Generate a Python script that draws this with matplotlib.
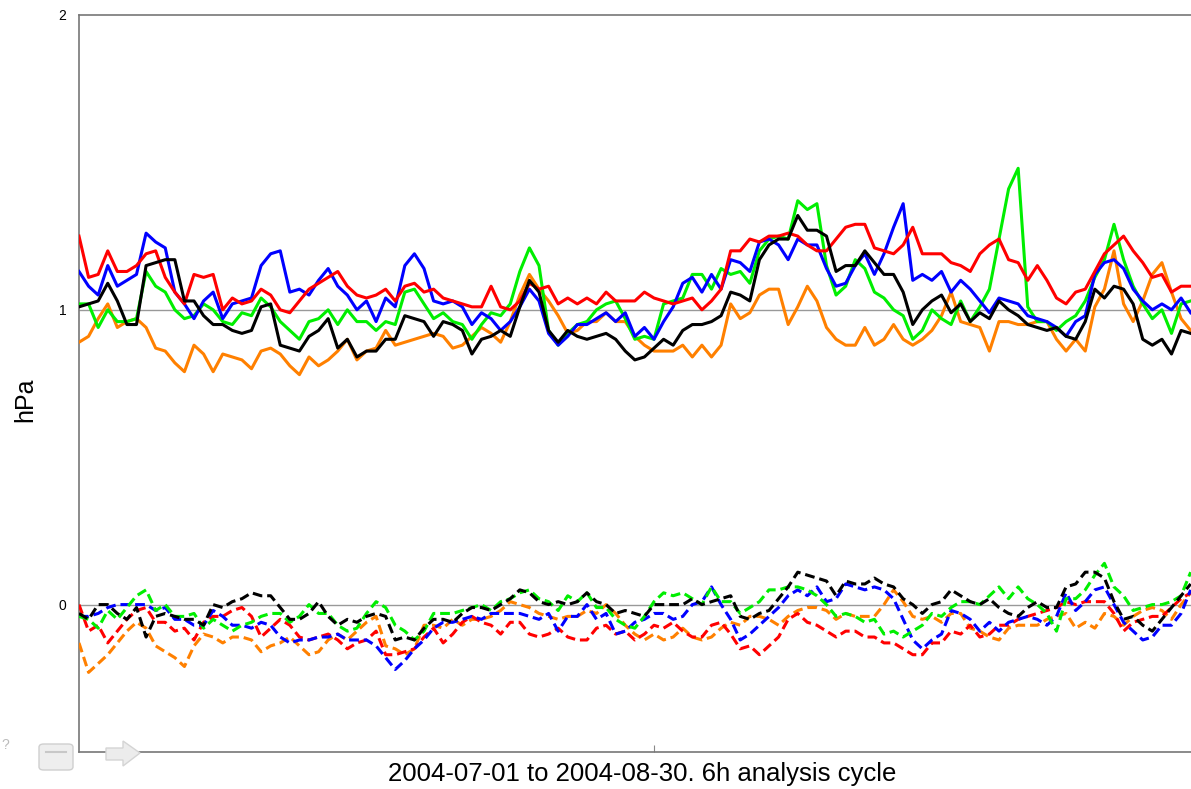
import matplotlib
matplotlib.use("Agg")
import matplotlib.pyplot as plt
from matplotlib.patches import FancyBboxPatch, Polygon
import numpy as np
import pandas as pd

plt.rcParams['font.family'] = ['Liberation Sans', 'DejaVu Sans']

# 12-hourly samples, 2004-07-01 00Z onward
times = pd.date_range("2004-07-01", periods=117, freq="12h")

# solid curves (around 1 hPa)
red = [1.25, 1.11, 1.12, 1.20, 1.13, 1.13, 1.15, 1.19, 1.20, 1.11,
       1.06, 1.02, 1.12, 1.11, 1.12, 1.00, 1.04, 1.02, 1.03, 1.07,
       1.05, 1.00, 0.99, 1.03, 1.07, 1.09, 1.11, 1.13, 1.08, 1.05,
       1.04, 1.05, 1.07, 1.03, 1.08, 1.09, 1.06, 1.07, 1.04, 1.03,
       1.02, 1.01, 1.01, 1.08, 1.01, 1.00, 1.03, 1.09, 1.07, 1.08,
       1.02, 1.04, 1.02, 1.04, 1.02, 1.06, 1.03, 1.03, 1.03, 1.06,
       1.04, 1.03, 1.02, 1.03, 1.04, 1.00, 1.03, 1.07, 1.20, 1.20,
       1.24, 1.23, 1.25, 1.25, 1.26, 1.25, 1.22, 1.20, 1.20, 1.24,
       1.28, 1.29, 1.29, 1.21, 1.20, 1.19, 1.22, 1.28, 1.19, 1.19,
       1.19, 1.16, 1.15, 1.13, 1.19, 1.22, 1.24, 1.17, 1.16, 1.10,
       1.15, 1.10, 1.04, 1.02, 1.06, 1.07, 1.13, 1.19, 1.22, 1.25,
       1.20, 1.16, 1.11, 1.12, 1.06, 1.08, 1.08]
blue = [1.13, 1.08, 1.05, 1.15, 1.08, 1.10, 1.12, 1.26, 1.23, 1.21,
        1.06, 1.02, 0.97, 1.03, 1.06, 0.97, 1.02, 1.03, 1.04, 1.15,
        1.19, 1.20, 1.06, 1.07, 1.05, 1.10, 1.14, 1.08, 1.05, 1.00,
        1.03, 0.96, 1.04, 1.01, 1.15, 1.19, 1.14, 1.03, 1.02, 1.03,
        1.01, 0.95, 0.99, 0.97, 0.93, 0.96, 1.01, 1.07, 1.03, 0.92,
        0.88, 0.91, 0.95, 0.95, 0.97, 0.99, 0.96, 0.99, 0.91, 0.94,
        0.90, 0.96, 1.01, 1.09, 1.11, 1.06, 1.12, 1.07, 1.17, 1.16,
        1.13, 1.23, 1.24, 1.22, 1.17, 1.24, 1.22, 1.22, 1.14, 1.08,
        1.09, 1.15, 1.19, 1.12, 1.19, 1.28, 1.36, 1.10, 1.12, 1.10,
        1.13, 1.06, 1.10, 1.07, 1.03, 0.99, 1.04, 1.03, 1.02, 0.98,
        0.97, 0.96, 0.94, 0.91, 0.96, 0.98, 1.12, 1.16, 1.17, 1.14,
        1.07, 1.03, 1.00, 1.02, 1.00, 1.04, 0.99]
green = [1.02, 1.02, 0.94, 1.00, 0.96, 0.96, 0.97, 1.13, 1.08, 1.06,
         1.00, 0.97, 0.98, 1.02, 1.00, 0.96, 0.95, 0.99, 0.98, 1.04,
         1.01, 0.96, 0.93, 0.90, 0.96, 0.97, 1.00, 0.95, 1.00, 0.96,
         0.96, 0.93, 0.96, 0.95, 1.06, 1.07, 1.02, 0.97, 0.99, 0.96,
         0.95, 0.90, 0.95, 0.99, 0.98, 1.02, 1.13, 1.21, 1.15, 0.93,
         0.88, 0.92, 0.95, 0.96, 1.00, 1.02, 1.03, 0.97, 0.90, 0.91,
         0.90, 1.02, 1.03, 1.04, 1.12, 1.12, 1.07, 1.14, 1.12, 1.13,
         1.09, 1.20, 1.24, 1.25, 1.24, 1.37, 1.34, 1.36, 1.15, 1.05,
         1.08, 1.17, 1.14, 1.06, 1.04, 1.00, 0.98, 0.90, 0.93, 1.00,
         0.97, 0.95, 1.03, 0.96, 1.01, 1.07, 1.24, 1.41, 1.48, 1.01,
         0.96, 0.96, 0.93, 0.96, 0.98, 1.03, 1.11, 1.17, 1.29, 1.17,
         1.08, 1.02, 0.97, 1.00, 0.92, 1.02, 1.03]
black = [1.01, 1.02, 1.03, 1.09, 1.03, 0.95, 0.95, 1.15, 1.16, 1.17,
         1.17, 1.03, 1.03, 0.98, 0.95, 0.95, 0.93, 0.92, 0.93, 1.01,
         1.02, 0.88, 0.87, 0.86, 0.91, 0.93, 0.97, 0.87, 0.90, 0.84,
         0.86, 0.86, 0.90, 0.90, 0.98, 0.97, 0.96, 0.91, 0.96, 0.95,
         0.93, 0.85, 0.90, 0.91, 0.93, 0.91, 1.01, 1.10, 1.06, 0.93,
         0.89, 0.93, 0.91, 0.90, 0.91, 0.92, 0.90, 0.86, 0.83, 0.84,
         0.87, 0.90, 0.88, 0.93, 0.95, 0.95, 0.96, 0.98, 1.06, 1.05,
         1.03, 1.17, 1.22, 1.24, 1.24, 1.32, 1.27, 1.27, 1.25, 1.13,
         1.15, 1.15, 1.20, 1.16, 1.12, 1.12, 1.06, 0.95, 1.00, 1.03,
         1.05, 0.99, 1.02, 0.96, 0.99, 0.97, 1.03, 1.00, 0.98, 0.95,
         0.94, 0.93, 0.94, 0.91, 0.90, 0.96, 1.07, 1.04, 1.08, 1.07,
         1.02, 0.90, 0.88, 0.90, 0.85, 0.93, 0.92]
orange = [0.89, 0.91, 0.97, 1.02, 0.94, 0.96, 0.97, 0.94, 0.87, 0.86,
          0.82, 0.79, 0.88, 0.85, 0.79, 0.85, 0.84, 0.83, 0.80, 0.86,
          0.87, 0.85, 0.81, 0.78, 0.84, 0.81, 0.83, 0.86, 0.90, 0.83,
          0.86, 0.87, 0.93, 0.88, 0.89, 0.90, 0.91, 0.92, 0.91, 0.87,
          0.88, 0.91, 0.94, 0.92, 0.89, 0.96, 1.05, 1.12, 1.07, 1.03,
          0.98, 0.92, 0.93, 0.96, 0.96, 0.99, 0.96, 0.96, 0.91, 0.88,
          0.86, 0.86, 0.86, 0.88, 0.84, 0.88, 0.84, 0.88, 1.02, 0.97,
          0.99, 1.05, 1.07, 1.07, 0.95, 1.01, 1.08, 1.03, 0.94, 0.90,
          0.88, 0.88, 0.94, 0.88, 0.90, 0.95, 0.90, 0.88, 0.90, 0.93,
          0.98, 1.06, 0.96, 0.95, 0.94, 0.86, 0.96, 0.96, 0.95, 0.95,
          0.96, 0.96, 0.90, 0.86, 0.90, 0.86, 1.01, 1.07, 1.20, 1.02,
          0.96, 1.03, 1.12, 1.16, 1.06, 0.97, 0.93]

# dashed curves (around 0 hPa)
red_d = [0.00, -0.09, -0.07, -0.13, -0.09, -0.05, -0.02, -0.01, -0.06, -0.06,
         -0.09, -0.08, -0.12, -0.06, -0.04, -0.04, -0.02, -0.01, -0.04, -0.11,
         -0.08, -0.05, -0.07, -0.11, -0.12, -0.11, -0.10, -0.12, -0.15, -0.13,
         -0.12, -0.09, -0.17, -0.17, -0.16, -0.15, -0.11, -0.08, -0.13, -0.10,
         -0.06, -0.04, -0.06, -0.07, -0.10, -0.06, -0.06, -0.10, -0.11, -0.10,
         -0.08, -0.11, -0.12, -0.12, -0.08, -0.07, -0.10, -0.09, -0.12, -0.10,
         -0.07, -0.08, -0.06, -0.09, -0.11, -0.11, -0.07, -0.06, -0.10, -0.15,
         -0.14, -0.17, -0.14, -0.11, -0.05, -0.03, -0.06, -0.07, -0.09, -0.11,
         -0.09, -0.09, -0.11, -0.11, -0.13, -0.13, -0.15, -0.17, -0.17, -0.13,
         -0.13, -0.09, -0.10, -0.07, -0.11, -0.10, -0.07, -0.07, -0.05, -0.04,
         -0.03, -0.02, -0.01, 0.01, 0.00, 0.01, 0.01, 0.01, -0.03, -0.09,
         -0.06, -0.05, -0.04, -0.04, -0.01, 0.02, 0.04]
blue_d = [-0.04, -0.04, -0.03, -0.01, 0.00, 0.00, 0.00, 0.00, -0.02, -0.01,
          -0.05, -0.05, -0.07, -0.07, -0.02, -0.04, -0.07, -0.07, -0.08, -0.06,
          -0.07, -0.11, -0.13, -0.12, -0.12, -0.11, -0.11, -0.10, -0.12, -0.12,
          -0.12, -0.14, -0.18, -0.22, -0.19, -0.15, -0.12, -0.08, -0.06, -0.06,
          -0.05, -0.04, -0.05, -0.03, -0.03, -0.03, -0.03, -0.04, -0.05, -0.03,
          -0.09, -0.04, -0.04, 0.00, -0.05, -0.03, -0.10, -0.09, -0.06, -0.05,
          -0.03, -0.03, -0.05, -0.04, 0.00, 0.01, 0.06, 0.00, -0.05, -0.12,
          -0.10, -0.07, -0.04, -0.01, 0.03, 0.05, 0.03, 0.06, 0.01, 0.02,
          0.07, 0.06, 0.05, 0.06, 0.05, 0.02, -0.05, -0.12, -0.15, -0.12,
          -0.10, -0.02, -0.03, -0.05, -0.09, -0.06, -0.09, -0.06, -0.05, -0.04,
          -0.05, -0.07, -0.04, 0.04, -0.02, 0.01, 0.05, 0.06, 0.00, -0.06,
          -0.09, -0.12, -0.11, -0.07, -0.07, -0.03, 0.05]
green_d = [-0.04, -0.05, -0.08, -0.02, -0.05, -0.01, 0.03, 0.05, -0.02, 0.00,
           -0.04, -0.04, -0.03, -0.08, -0.05, -0.07, -0.09, -0.07, -0.06, -0.04,
           -0.03, -0.03, -0.06, -0.04, 0.00, -0.03, -0.03, -0.07, -0.09, -0.08,
           -0.03, 0.01, -0.01, -0.07, -0.09, -0.12, -0.09, -0.03, -0.03, -0.03,
           -0.02, -0.01, 0.00, -0.02, 0.01, 0.02, 0.04, 0.05, 0.02, 0.01,
           -0.02, 0.03, 0.01, 0.04, -0.01, -0.01, -0.05, -0.07, -0.08, -0.04,
           0.01, 0.04, 0.03, 0.04, 0.02, 0.00, 0.06, 0.01, 0.01, -0.03,
           -0.01, 0.01, 0.05, 0.05, 0.06, 0.06, 0.05, 0.03, 0.00, -0.04,
           -0.03, -0.04, -0.06, -0.05, -0.10, -0.09, -0.11, -0.09, -0.07, -0.03,
           -0.04, -0.01, 0.01, 0.01, 0.00, 0.03, 0.06, 0.02, 0.06, 0.02,
           0.00, -0.03, -0.09, 0.02, 0.02, 0.05, 0.10, 0.14, 0.06, 0.03,
           -0.02, -0.01, 0.00, 0.00, 0.01, 0.03, 0.11]
black_d = [-0.03, -0.05, 0.00, 0.00, -0.03, -0.05, -0.01, -0.11, -0.04, -0.03,
           -0.04, -0.05, -0.05, -0.07, 0.00, -0.01, 0.01, 0.02, 0.04, 0.03,
           0.03, -0.01, -0.05, -0.05, -0.03, 0.01, -0.04, -0.07, -0.05, -0.06,
           -0.04, -0.03, -0.04, -0.12, -0.11, -0.12, -0.08, -0.05, -0.05, -0.06,
           -0.03, -0.01, -0.01, -0.02, 0.00, 0.02, 0.05, 0.04, 0.01, 0.00,
           0.01, 0.00, 0.01, 0.04, 0.01, 0.00, -0.03, -0.02, -0.03, -0.04,
           0.00, 0.00, 0.00, 0.00, 0.02, 0.00, 0.01, 0.02, 0.03, -0.04,
           -0.05, -0.03, -0.02, 0.02, 0.06, 0.11, 0.10, 0.09, 0.08, 0.03,
           0.08, 0.07, 0.07, 0.09, 0.07, 0.06, 0.02, 0.00, -0.03, 0.00,
           0.01, 0.05, 0.03, 0.01, 0.00, 0.02, -0.01, -0.03, -0.04, -0.01,
           0.01, -0.01, -0.01, 0.06, 0.07, 0.11, 0.11, 0.09, 0.01, -0.05,
           -0.04, -0.07, -0.09, -0.05, -0.01, 0.03, 0.07]
orange_d = [-0.13, -0.23, -0.20, -0.17, -0.13, -0.09, -0.06, -0.08, -0.14, -0.16,
            -0.18, -0.21, -0.14, -0.10, -0.11, -0.13, -0.11, -0.11, -0.12, -0.16,
            -0.14, -0.13, -0.11, -0.14, -0.17, -0.16, -0.12, -0.10, -0.12, -0.09,
            -0.06, -0.04, -0.14, -0.15, -0.17, -0.15, -0.07, -0.07, -0.08, -0.05,
            -0.07, -0.05, -0.05, -0.04, -0.02, 0.01, 0.00, -0.01, -0.03, -0.04,
            -0.05, -0.04, -0.04, -0.02, -0.03, 0.00, -0.03, -0.07, -0.10, -0.12,
            -0.10, -0.12, -0.11, -0.08, -0.11, -0.12, -0.11, -0.08, -0.06, -0.07,
            -0.04, -0.04, -0.05, -0.07, -0.04, -0.02, -0.01, -0.01, -0.02, -0.05,
            -0.03, -0.04, -0.04, -0.04, 0.00, 0.05, 0.01, -0.04, -0.05, -0.04,
            -0.06, -0.03, -0.03, -0.08, -0.09, -0.11, -0.12, -0.08, -0.07, -0.07,
            -0.07, -0.05, -0.04, -0.03, -0.08, -0.06, -0.08, -0.03, -0.04, -0.07,
            -0.04, -0.02, -0.01, -0.02, -0.05, 0.00, 0.04]

solid = [(orange, "#ff8000"), (green, "#00ee00"), (blue, "#0000ff"),
         (red, "#ff0000"), (black, "#000000")]
dashed = [(orange_d, "#ff8000"), (red_d, "#ff0000"), (blue_d, "#0000ff"),
          (green_d, "#00ee00"), (black_d, "#000000")]

W, H = 1191, 789
fig = plt.figure(figsize=(W / 100, H / 100), dpi=100)
# axis runs on past the right edge of the picture, as in the original screenshot
ax = fig.add_axes([79 / W, 37 / H, 1150 / W, 737 / H])

ax.axhline(0, color="#999999", lw=1.0, zorder=1)
ax.axhline(1, color="#999999", lw=1.0, zorder=1)

for vals, col in solid:
    ax.plot(times, vals, color=col, lw=2.2, zorder=3)
for vals, col in dashed:
    ax.plot(times, vals, color=col, lw=2.2, ls=(0, (3.2, 1.6)), zorder=3)

ax.set_xlim(pd.Timestamp("2004-07-01"), pd.Timestamp("2004-08-30"))
ax.set_ylim(-0.5, 2)
ax.set_yticks([0, 1, 2])
ax.set_yticklabels(["0", "1", "2"])
ax.tick_params(axis="y", length=0, pad=9, labelsize=10)
ax.set_xticks([pd.Timestamp("2004-07-31")])
ax.set_xticklabels([""])
ax.tick_params(axis="x", direction="in", length=5, color="#888888")

for side in ["left", "bottom", "top", "right"]:
    ax.spines[side].set_color("#777777")
    ax.spines[side].set_linewidth(1.2)

ax.set_xlabel("2004-07-01 to 2004-08-30. 6h analysis cycle", fontsize=18.5)
ax.xaxis.set_label_coords((642 - 79) / 1150, -10 / 737)
ax.set_ylabel("hPa", fontsize=18, va="center")
ax.yaxis.set_label_coords((25 - 79) / 1150, (752 - 400) / 737)

# the little browser controls that sit under the left end of the axis
def px(x, y):
    return (x / W, 1 - y / H)

btn = FancyBboxPatch(px(39, 770), 34 / W, 26 / H,
                     boxstyle="round,pad=0,rounding_size=0.004",
                     transform=fig.transFigure, facecolor="#eeeeee",
                     edgecolor="#cfcfcf", lw=1.0)
fig.patches.append(btn)
fig.lines.append(plt.Line2D([46 / W, 66 / W], [1 - 752 / H] * 2,
                            transform=fig.transFigure, color="#c8c8c8", lw=1.5))
arrow = Polygon([px(106, 748), px(123, 748), px(123, 741), px(140, 753),
                 px(123, 766), px(123, 760), px(106, 760)], closed=True,
                transform=fig.transFigure, facecolor="#ececec",
                edgecolor="#d4d4d4", lw=1.0)
fig.patches.append(arrow)
fig.text(1 / W, 1 - 745 / H, "?", fontsize=10, color="#bbbbbb",
         ha="left", va="center")

fig.savefig("out.png", dpi=100)
